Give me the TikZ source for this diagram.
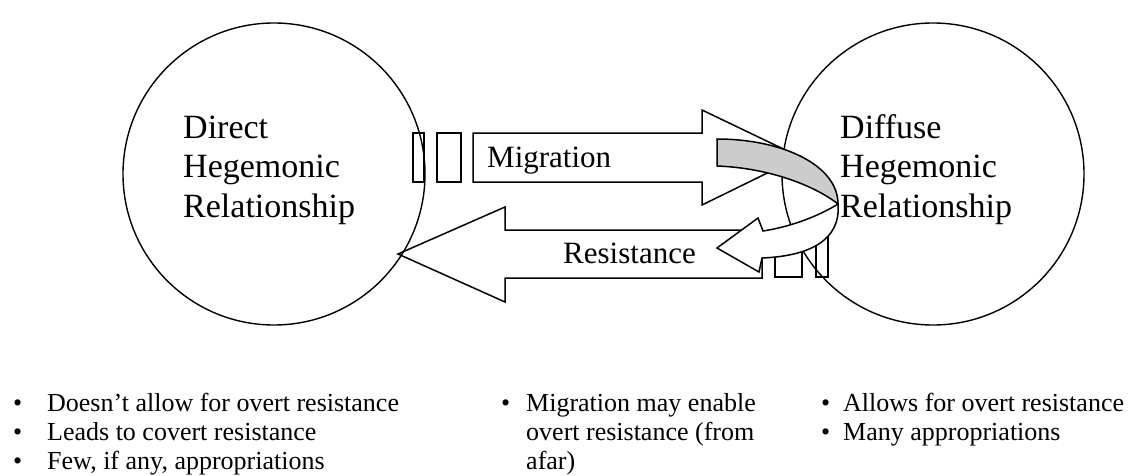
\documentclass[tikz,border=0pt]{standalone}
\usepackage{fontspec}
\setmainfont{Liberation Serif}
\begin{document}
\begin{tikzpicture}[x=1pt,y=-1pt,
  shapeline/.style={draw=black, line width=1.5pt, line join=miter},
  hegcircle/.style={circle, draw=black, line width=1.4pt, minimum size=302pt, inner sep=0pt},
  headtext/.style={font=\fontsize{34}{39.3}\selectfont, align=left, inner sep=0pt, anchor=base west},
  arrowlabel/.style={font=\fontsize{31}{36}\selectfont, inner sep=0pt, anchor=base west},
  bullettext/.style={font=\fontsize{26}{29}\selectfont, align=left, inner sep=0pt, anchor=base west}]
\useasboundingbox (0,0) rectangle (1134,476);

% Migration block arrow with its two small blocks
\draw[shapeline, fill=white] (473,133) -- (702,133) -- (702,110) -- (800,157) -- (702,205) -- (702,182) -- (473,182) -- cycle;
\draw[shapeline] (413,133) rectangle (424,182);
\draw[shapeline] (437,133) rectangle (461,182);

% Resistance block arrow with its two small blocks
\draw[shapeline, fill=white] (762,230) -- (505,230) -- (505,207) -- (398,254) -- (505,302) -- (505,278) -- (762,278) -- cycle;
\draw[shapeline] (775,230) rectangle (802,277);
\draw[shapeline] (816,230) rectangle (828,277);

% The two circles
\node[hegcircle] (direct) at (274,174) {};
\node[hegcircle] (diffuse) at (933,174) {};

% Curved (twisted) arrow
\coordinate (twist) at (838,204);
\draw[shapeline, fill=black!20] (717,139) .. controls (782,139) and (838,165) .. (twist)
  .. controls (815,186) and (770,168) .. (717,166) -- cycle;
\draw[shapeline, fill=white] (twist) .. controls (822,214) and (795,226) .. (763,231)
  -- (758,218) -- (717,248) -- (759,272) -- (762,258)
  .. controls (810,256) and (841,240) .. (twist) -- cycle;

% Texts
\node[headtext] (directtxt) at (183,217) {Direct\\Hegemonic\\Relationship};
\node[headtext] (diffusetxt) at (840,217) {Diffuse\\Hegemonic\\Relationship};
\node[arrowlabel] (migtxt) at (487,167) {Migration};
\node[arrowlabel] (restxt) at (563,263) {Resistance};

\node[bullettext] (leftlist) at (13,469) {\makebox[34pt][l]{•}Doesn’t allow for overt resistance\\\makebox[34pt][l]{•}Leads to covert resistance\\\makebox[34pt][l]{•}Few, if any, appropriations};
\node[bullettext] (midlist) at (501,469) {\makebox[25pt][l]{•}Migration may enable\\\hspace*{25pt}overt resistance (from\\\hspace*{25pt}afar)};
\node[bullettext] (rightlist) at (821,440) {\makebox[22pt][l]{•}Allows for overt resistance\\\makebox[22pt][l]{•}Many appropriations};
\end{tikzpicture}
\end{document}
